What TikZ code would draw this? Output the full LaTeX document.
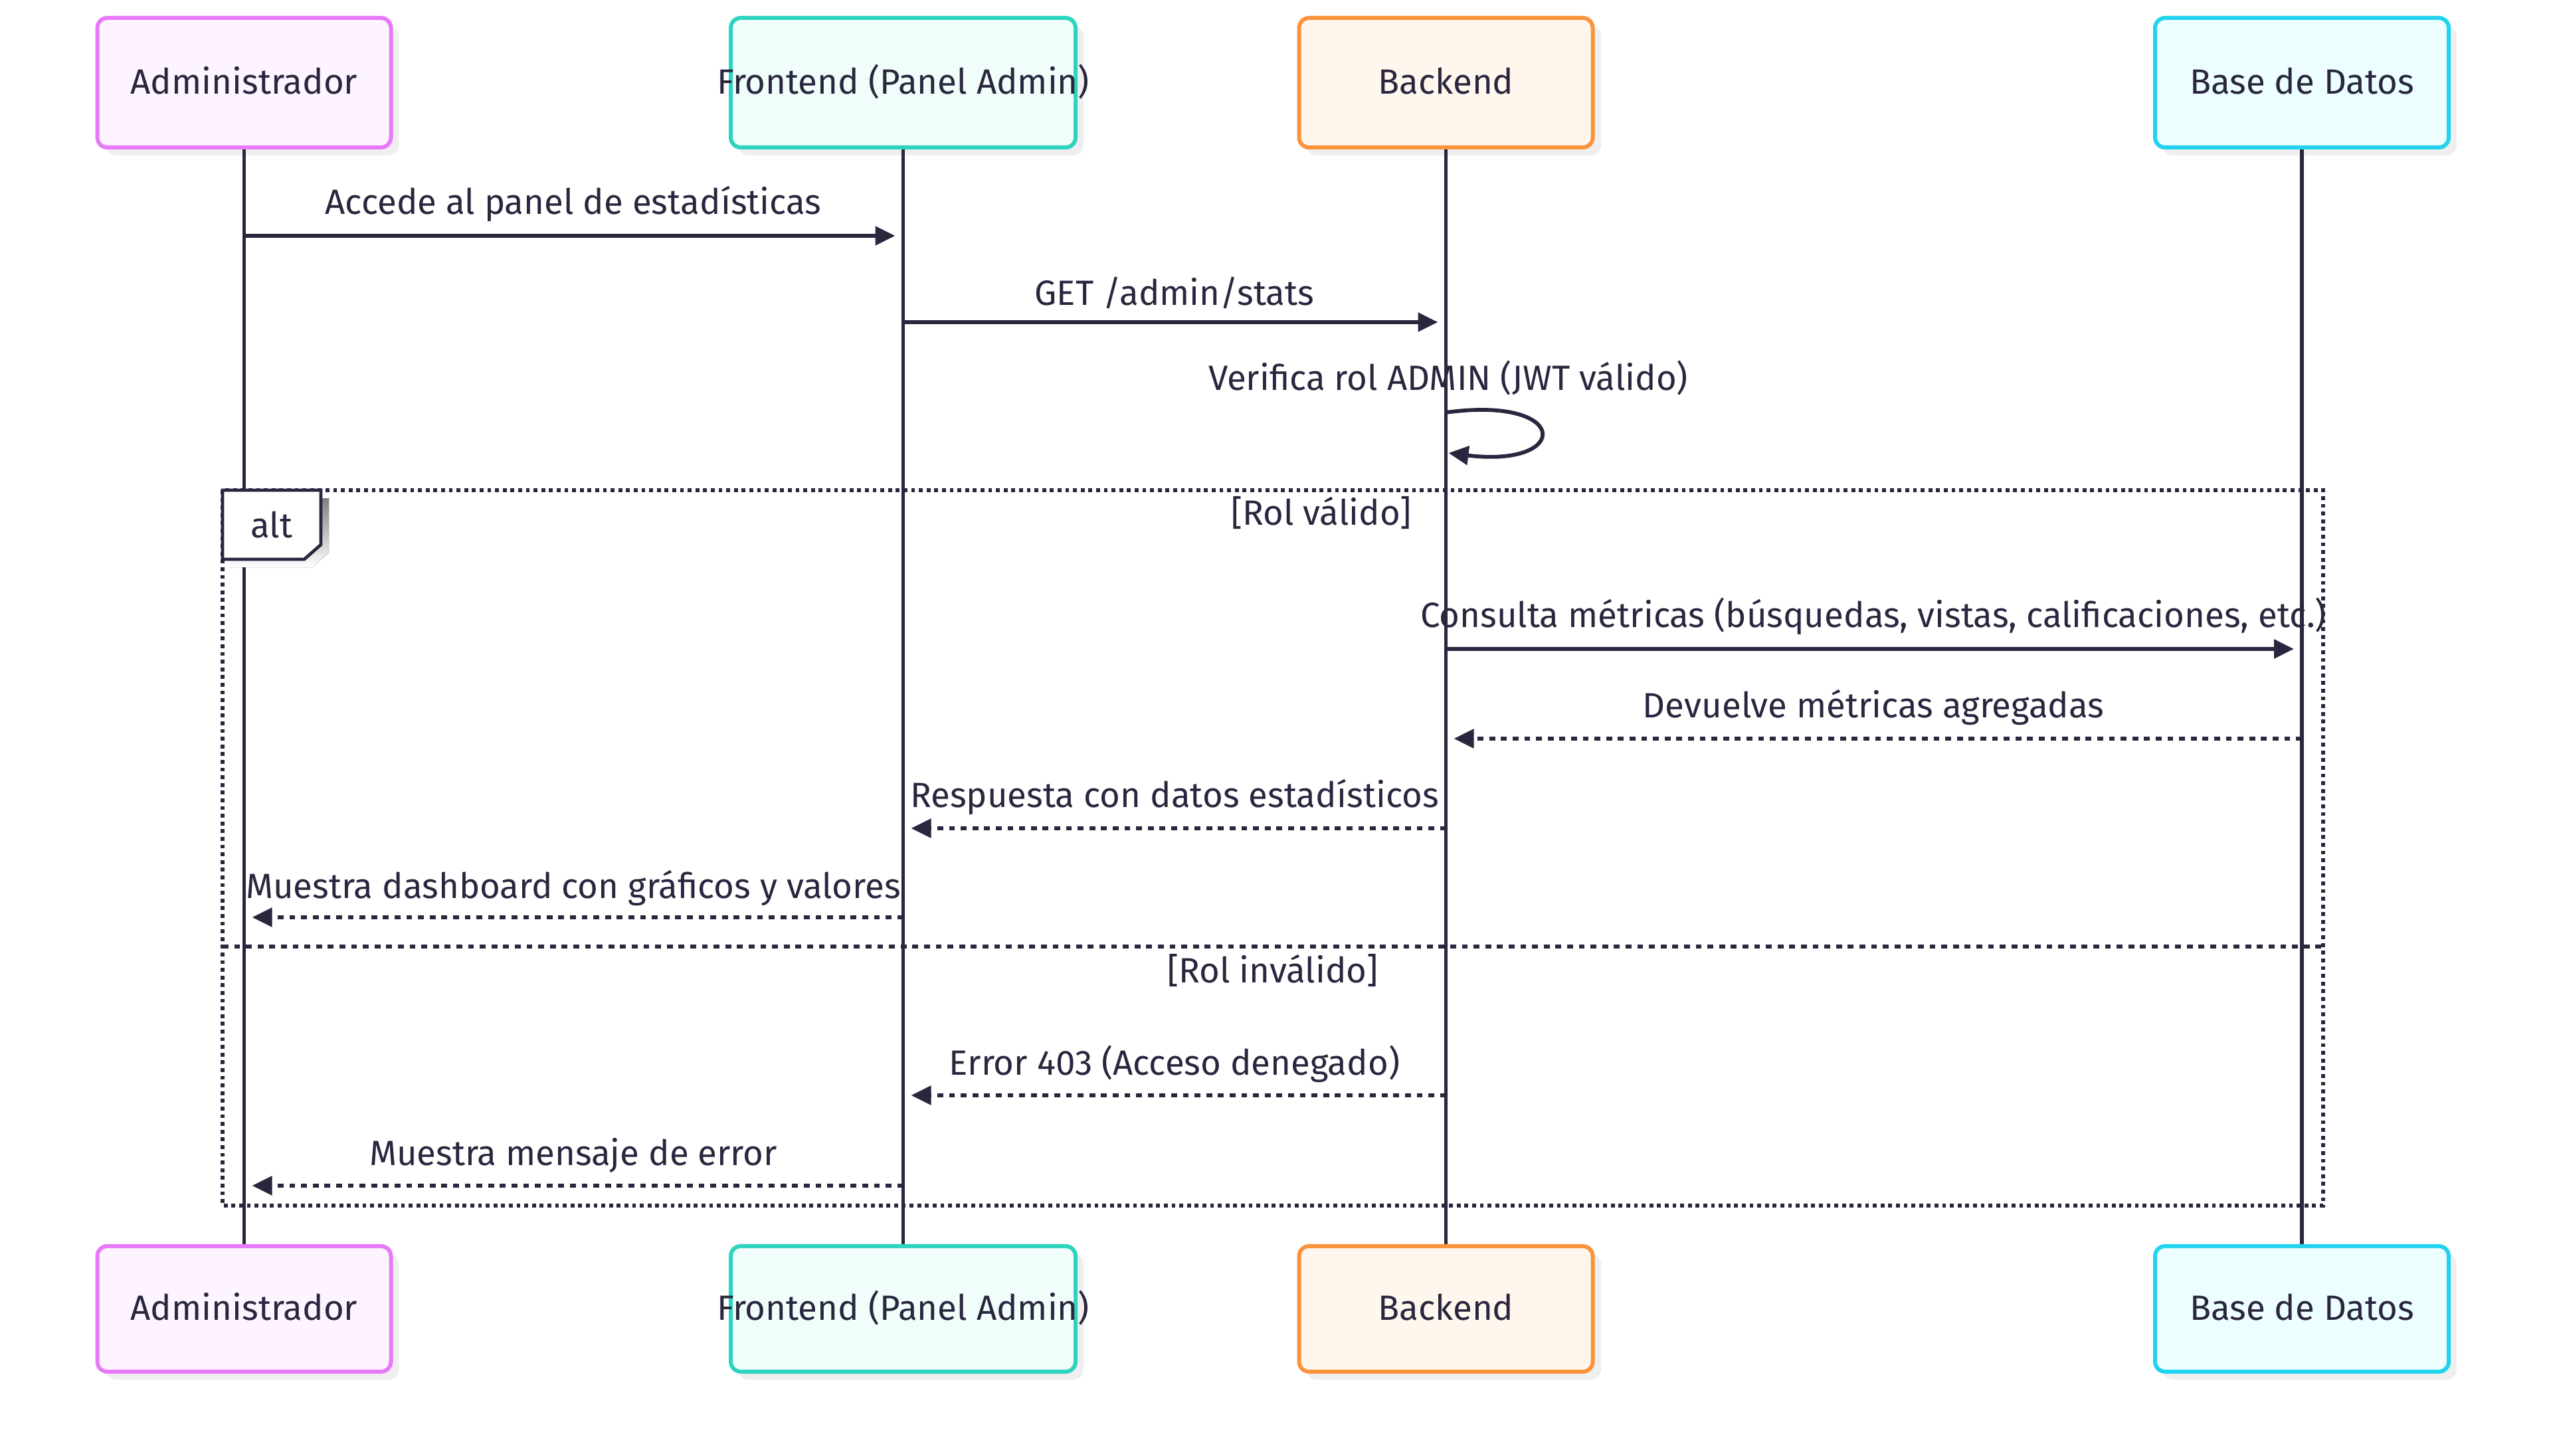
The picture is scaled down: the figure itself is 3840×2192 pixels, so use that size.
\documentclass[tikz,border=0pt]{standalone}
\usepackage{fontspec}
\setmainfont{Fira Sans}
\usetikzlibrary{arrows.meta}
\definecolor{ink}{HTML}{29263E}
\definecolor{admF}{HTML}{FDF4FF}\definecolor{admD}{HTML}{E879F9}
\definecolor{feF}{HTML}{F0FDFA}\definecolor{feD}{HTML}{2DD4BF}
\definecolor{beF}{HTML}{FFF7ED}\definecolor{beD}{HTML}{FB923C}
\definecolor{dbF}{HTML}{ECFEFF}\definecolor{dbD}{HTML}{22D3EE}
\definecolor{shade}{HTML}{EFEFEF}
\begin{document}
\begin{tikzpicture}[x=0.25pt,y=-0.25pt,
  every node/.style={font=\fontsize{13.2}{15}\selectfont, text=ink},
  actor/.style={draw=#1D, fill=#1F, line width=1.5pt, rounded corners=3.75pt,
     minimum width=110.5pt, minimum height=48.75pt, inner sep=0pt},
  shadowbox/.style={fill=shade, rounded corners=3.75pt},
  life/.style={draw=ink, line width=1.35pt},
  msg/.style={draw=ink, line width=1.45pt, -{Triangle[length=7.5pt,width=7pt]}, shorten >=3pt},
  reply/.style={msg, dash pattern=on 2.2pt off 2.2pt},
  lbl/.style={anchor=base, inner sep=0pt},
  frame/.style={draw=ink, line width=1.45pt, dash pattern=on 1.45pt off 1.45pt},
  divider/.style={draw=ink, line width=1.45pt, dash pattern=on 2.2pt off 2.2pt}]
\useasboundingbox (0,0) rectangle (3840,2192);

% shadows of actor boxes
\foreach \l/\r in {147/588,1100/1619,1955/2398,3244/3686}{
  \fill[shadowbox] (\l+12,39) rectangle (\r+12,234);
  \fill[shadowbox] (\l+12,1888) rectangle (\r+12,2077);
}

% top actors
\node[actor=adm] (adm) at (367.5,124.5) {};
\node[actor=fe, minimum width=129.75pt]  (fe)  at (1359.5,124.5) {};
\node[actor=be]  (be)  at (2176.5,124.5) {};
\node[actor=db]  (db)  at (3465,124.5) {};
% bottom actors
\node[actor=adm, minimum height=47.25pt] (admB) at (367.5,1970.5) {};
\node[actor=fe,  minimum width=129.75pt, minimum height=47.25pt] (feB)  at (1359.5,1970.5) {};
\node[actor=be,  minimum height=47.25pt] (beB)  at (2176.5,1970.5) {};
\node[actor=db,  minimum height=47.25pt] (dbB)  at (3465,1970.5) {};

% actor labels
\foreach \n/\t in {adm/Administrador, fe/Frontend (Panel Admin), be/Backend, db/Base de Datos}{
  \node[lbl] (\n T) at ([yshift=-4.25pt]\n.center) {\t};
  \node[lbl] (\n BT) at ([yshift=-4.25pt]\n B.center) {\t};
}

% lifelines
\draw[life] (adm.south) -- (admB.north);
\draw[life] (fe.south) -- (feB.north);
\draw[life] (be.south) -- (beB.north);
\draw[life] (db.south) -- (dbB.north);

% alt frame
\draw[frame] (335,738) rectangle (3497,1815);
\fill[shade] (346,750) -- (495,750) -- (495,832) -- (470,854) -- (346,854) -- cycle;
\draw[ink, line width=1.2pt, fill=white] (335,738) -- (483,738) -- (483,820) -- (458,842) -- (335,842) -- cycle;
\node[lbl] (altT) at (409,809) {alt};
\node[lbl] (g1) at (1989,790) {[Rol válido]};
\draw[divider] (335,1425) -- (3497,1425);
\node[lbl] (g2) at (1916,1479) {[Rol inválido]};

% message end points on lifelines
\coordinate (a1) at (adm.center |- 0,355);   \coordinate (f1) at (fe.center |- 0,355);
\coordinate (f2) at (fe.center |- 0,485);    \coordinate (b2) at (be.center |- 0,485);
\coordinate (b3s) at (be.center |- 0,621);   \coordinate (b3e) at (be.center |- 0,682);
\coordinate (b4) at (be.center |- 0,977);    \coordinate (d4) at (db.center |- 0,977);
\coordinate (d5) at (db.center |- 0,1112);   \coordinate (b5) at (be.center |- 0,1112);
\coordinate (b6) at (be.center |- 0,1247);   \coordinate (f6) at (fe.center |- 0,1247);
\coordinate (f7) at (fe.center |- 0,1381);   \coordinate (a7) at (adm.center |- 0,1381);
\coordinate (b8) at (be.center |- 0,1649);   \coordinate (f8) at (fe.center |- 0,1649);
\coordinate (f9) at (fe.center |- 0,1785);   \coordinate (a9) at (adm.center |- 0,1785);

% messages
\node[lbl] (m1) at (863,323) {Accede al panel de estadísticas};
\draw[msg] (a1) -- (f1);
\node[lbl] (m2) at (1768,460) {GET /admin/stats};
\draw[msg] (f2) -- (b2);
\node[lbl] (m3) at (2180,588) {Verifica rol ADMIN (JWT válido)};
\draw[msg, shorten >=0pt] (b3s) .. controls (2365,595) and (2365,705) .. ([xshift=1pt]b3e);
\node[lbl] (m4) at (2820,944) {Consulta métricas (búsquedas, vistas, calificaciones, etc.)};
\draw[msg] (b4) -- (d4);
\node[lbl] (m5) at (2820,1080) {Devuelve métricas agregadas};
\draw[reply] (d5) -- (b5);
\node[lbl] (m6) at (1768,1215) {Respuesta con datos estadísticos};
\draw[reply] (b6) -- (f6);
\node[lbl] (m7) at (863,1352) {Muestra dashboard con gráficos y valores};
\draw[reply] (f7) -- (a7);
\node[lbl] (m8) at (1768,1618) {Error 403 (Acceso denegado)};
\draw[reply] (b8) -- (f8);
\node[lbl] (m9) at (863,1754) {Muestra mensaje de error};
\draw[reply] (f9) -- (a9);
\end{tikzpicture}
\end{document}
